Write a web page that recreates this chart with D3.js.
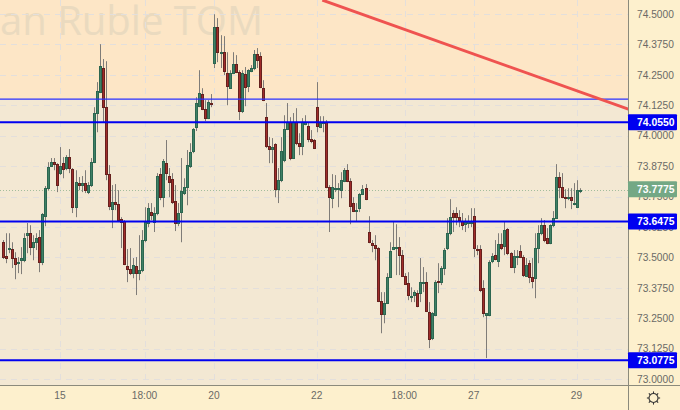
<!DOCTYPE html>
<html>
<head>
<meta charset="utf-8">
<script src="https://cdn.jsdelivr.net/npm/d3@7/dist/d3.min.js"></script>
<style>html,body{margin:0;padding:0;background:#fdf0cd}svg{display:block}</style>
</head>
<body>
<script>
const opens=[73.562,73.505,73.534,73.534,73.497,73.476,73.488,73.488,73.591,73.599,73.542,73.562,73.583,73.480,73.669,73.784,73.875,73.891,73.883,73.846,73.887,73.867,73.912,73.862,73.706,73.805,73.797,73.805,73.768,73.797,
73.891,74.093,74.179,74.278,74.117,73.842,73.698,73.727,73.719,73.657,73.649,73.464,73.451,73.435,73.464,73.435,73.447,73.571,73.641,73.686,73.645,73.682,73.842,73.747,73.887,73.834,73.821,73.731,73.641,73.686,
73.764,73.789,73.875,73.936,74.035,74.121,74.171,74.109,74.072,74.134,74.298,74.446,74.339,74.343,74.257,74.195,74.257,74.294,74.261,74.101,74.253,74.204,74.265,74.278,74.335,74.327,74.195,74.076,73.957,73.945,
73.965,73.780,73.817,73.899,74.027,74.056,73.908,74.056,73.969,73.957,74.047,74.039,73.986,73.982,74.117,74.035,74.052,74.056,73.789,73.743,73.780,73.780,73.776,73.813,73.858,73.813,73.723,73.690,73.702,73.760,
73.784,73.604,73.558,73.550,73.538,73.320,73.266,73.312,73.419,73.534,73.538,73.542,73.509,73.423,73.394,73.336,73.345,73.353,73.353,73.394,73.398,73.275,73.168,73.262,73.402,73.398,73.456,73.538,73.599,73.682,
73.682,73.665,73.649,73.636,73.641,73.641,73.669,73.534,73.534,73.373,73.262,73.262,73.484,73.509,73.484,73.554,73.546,73.616,73.517,73.460,73.501,73.525,73.501,73.423,73.476,73.419,73.414,73.538,73.599,73.632,
73.579,73.558,73.632,73.661,73.830,73.789,73.747,73.743,73.747,73.719,73.706,73.775];
const highs=[73.571,73.599,73.599,73.562,73.521,73.501,73.542,73.599,73.641,73.632,73.591,73.599,73.612,73.682,73.793,73.891,73.908,73.908,73.887,73.953,73.912,73.920,73.945,73.867,73.858,73.830,73.834,73.858,73.809,73.908,
74.117,74.220,74.376,74.315,74.306,73.879,73.797,73.801,73.776,73.665,73.653,73.534,73.538,73.497,73.501,73.591,73.612,73.706,73.723,73.723,73.706,73.846,73.867,73.904,73.982,73.867,73.846,73.797,73.723,73.908,
73.825,73.941,73.969,74.031,74.158,74.269,74.195,74.146,74.146,74.171,74.499,74.483,74.413,74.409,74.343,74.269,74.343,74.331,74.269,74.269,74.282,74.273,74.290,74.352,74.360,74.343,74.228,74.134,73.994,73.990,
73.969,73.867,73.994,74.084,74.134,74.076,74.093,74.113,74.010,74.072,74.084,74.056,74.023,73.986,74.220,74.080,74.080,74.064,73.797,73.842,73.838,73.805,73.850,73.867,73.883,73.825,73.747,73.723,73.764,73.797,
73.801,73.669,73.571,73.591,73.542,73.357,73.357,73.435,73.562,73.645,73.636,73.583,73.530,73.435,73.439,73.377,73.365,73.365,73.497,73.460,73.439,73.316,73.275,73.406,73.476,73.464,73.538,73.661,73.739,73.694,
73.706,73.694,73.682,73.661,73.673,73.702,73.702,73.550,73.550,73.406,73.271,73.488,73.517,73.571,73.599,73.599,73.645,73.620,73.521,73.530,73.530,73.550,73.509,73.497,73.488,73.497,73.599,73.632,73.661,73.653,
73.620,73.636,73.690,73.883,73.850,73.846,73.780,73.784,73.784,73.805,73.817,73.784];
const lows=[73.493,73.476,73.517,73.456,73.410,73.435,73.431,73.480,73.517,73.509,73.488,73.530,73.439,73.468,73.628,73.776,73.871,73.858,73.768,73.838,73.825,73.858,73.846,73.682,73.665,73.776,73.768,73.764,73.760,73.789,
73.887,74.014,74.175,74.056,73.817,73.694,73.620,73.694,73.645,73.538,73.468,73.398,73.427,73.414,73.345,73.406,73.439,73.562,73.624,73.653,73.604,73.673,73.735,73.706,73.817,73.747,73.719,73.608,73.628,73.562,
73.756,73.714,73.867,73.928,74.019,74.117,74.105,74.060,74.068,74.117,74.278,74.302,74.278,74.249,74.125,74.195,74.253,74.257,74.064,74.093,74.121,74.179,74.261,74.269,74.278,74.195,74.142,73.949,73.887,73.887,
73.747,73.723,73.809,73.891,74.023,73.899,73.904,73.961,73.920,73.920,74.043,73.973,73.969,73.945,74.014,74.031,74.014,73.784,73.604,73.702,73.768,73.706,73.743,73.809,73.809,73.636,73.686,73.649,73.686,73.756,
73.735,73.558,73.521,73.488,73.316,73.188,73.229,73.308,73.419,73.530,73.427,73.427,73.419,73.386,73.324,73.316,73.316,73.295,73.316,73.357,73.275,73.127,73.160,73.258,73.353,73.386,73.427,73.530,73.591,73.604,
73.632,73.624,73.612,73.604,73.620,73.624,73.501,73.509,73.357,73.254,73.086,73.258,73.476,73.488,73.460,73.530,73.509,73.509,73.456,73.435,73.468,73.497,73.419,73.419,73.394,73.373,73.332,73.476,73.591,73.562,
73.554,73.554,73.624,73.661,73.743,73.743,73.702,73.735,73.698,73.714,73.702,73.764];
const closes=[73.501,73.497,73.538,73.497,73.472,73.480,73.497,73.579,73.599,73.542,73.562,73.579,73.480,73.678,73.784,73.871,73.891,73.883,73.797,73.875,73.862,73.912,73.867,73.706,73.809,73.797,73.805,73.776,73.797,73.891,
74.093,74.183,74.286,74.117,73.842,73.710,73.727,73.719,73.653,73.645,73.472,73.451,73.435,73.468,73.435,73.447,73.571,73.645,73.702,73.673,73.682,73.834,73.747,73.895,73.846,73.809,73.727,73.641,73.682,73.772,
73.789,73.879,73.932,74.027,74.134,74.175,74.109,74.072,74.138,74.130,74.446,74.343,74.343,74.265,74.204,74.257,74.294,74.261,74.101,74.257,74.199,74.269,74.278,74.335,74.310,74.199,74.146,73.957,73.945,73.953,
73.780,73.817,73.936,74.027,74.056,73.908,74.056,73.969,73.957,74.056,74.056,73.986,73.977,73.949,74.039,74.052,74.056,73.789,73.747,73.789,73.784,73.784,73.817,73.858,73.813,73.710,73.690,73.694,73.760,73.780,
73.739,73.562,73.550,73.538,73.320,73.266,73.312,73.419,73.525,73.542,73.542,73.509,73.423,73.390,73.345,73.340,73.357,73.299,73.398,73.398,73.279,73.164,73.271,73.398,73.398,73.456,73.530,73.599,73.665,73.665,
73.665,73.653,73.632,73.645,73.649,73.645,73.538,73.530,73.365,73.271,73.271,73.480,73.505,73.493,73.554,73.538,73.612,73.517,73.460,73.505,73.505,73.501,73.427,73.468,73.419,73.402,73.538,73.599,73.632,73.571,
73.558,73.632,73.661,73.830,73.789,73.747,73.743,73.747,73.735,73.723,73.776,73.7775];
const priceTicks=[73,73.125,73.25,73.375,73.5,73.625,73.75,73.875,74,74.125,74.25,74.375,74.5];
const timeLabels=["15","18:00","20","22","18:00","27","29"];
const timeIndex=[19,47,70,104,133,156,190];
const thinLevel=74.15;
const levels=[74.055,73.6475,73.0775];
const lastPrice=73.7775;
const trendIndex=[105.7,207];
const trendPrice=[74.557,74.109];
const watermark="an Ruble TOM";

const W=680,H=410,plotR=628,plotB=385;
const x=d3.scaleLinear().domain([0,191]).range([3,580]);
const y=d3.scaleLinear().domain([73,74.5]).range([379,14]);
const font='"Liberation Sans",Arial,sans-serif';
const svg=d3.select("body").append("svg").attr("width",W).attr("height",H);
svg.append("rect").attr("width",W).attr("height",H).attr("fill","#fdf0cd");
svg.append("defs").append("clipPath").attr("id","plot").append("rect").attr("width",plotR).attr("height",plotB);
const plot=svg.append("g").attr("clip-path","url(#plot)");
plot.append("rect").attr("width",plotR).attr("height",y(thinLevel)).attr("fill","#fde6c6");
plot.append("rect").attr("y",y(thinLevel)).attr("width",plotR).attr("height",plotB-y(thinLevel)).attr("fill","#f3e8d3");
plot.append("text").attr("x",0).attr("y",35).text(watermark)
  .attr("font-family",'"Open Sans",sans-serif').attr("font-size",40).attr("fill","#eadabf");
const grid=plot.append("g").attr("stroke","#e3dfdc").attr("stroke-dasharray","6,5");
grid.selectAll("line.h").data(priceTicks).join("line").attr("x1",0).attr("x2",plotR)
  .attr("y1",d=>Math.round(y(d))+.5).attr("y2",d=>Math.round(y(d))+.5);
grid.selectAll("line.v").data(timeIndex).join("line").attr("y1",0).attr("y2",plotB)
  .attr("x1",d=>Math.round(x(d))+.5).attr("x2",d=>Math.round(x(d))+.5);
plot.append("line").attr("x1",0).attr("x2",plotR).attr("y1",Math.round(y(lastPrice))+.5).attr("y2",Math.round(y(lastPrice))+.5)
  .attr("stroke","#a3bd9c").attr("stroke-dasharray","1,2");

const rows=d3.range(opens.length);
const px=i=>Math.round(x(i));
const wicks=plot.append("g").attr("stroke","#7f7c78");
wicks.selectAll("line").data(rows).join("line")
  .attr("x1",i=>px(i)+.5).attr("x2",i=>px(i)+.5).attr("y1",i=>y(highs[i])).attr("y2",i=>y(lows[i]));
const up=i=>closes[i]>=opens[i];
plot.append("g").selectAll("rect").data(rows).join("rect")
  .attr("x",i=>px(i)-.5).attr("width",2)
  .attr("y",i=>Math.round(y(Math.max(opens[i],closes[i])))+.5)
  .attr("height",i=>Math.max(1,Math.round(y(Math.min(opens[i],closes[i])))-Math.round(y(Math.max(opens[i],closes[i])))))
  .attr("fill",i=>up(i)?"#3f8065":"#a02c2a").attr("stroke",i=>up(i)?"#2c6650":"#66211e");

plot.append("line").attr("x1",0).attr("x2",plotR).attr("y1",y(thinLevel)).attr("y2",y(thinLevel))
  .attr("stroke","#2a30ff").attr("stroke-width",1.2);
plot.selectAll("line.lvl").data(levels).join("line").attr("class","lvl").attr("x1",0).attr("x2",plotR)
  .attr("y1",d=>y(d)).attr("y2",d=>y(d)).attr("stroke","#0000f0").attr("stroke-width",2);
plot.append("line").attr("x1",x(trendIndex[0])).attr("x2",x(trendIndex[1]))
  .attr("y1",y(trendPrice[0])).attr("y2",y(trendPrice[1])).attr("stroke","#ef5350").attr("stroke-width",3);

svg.append("line").attr("x1",0).attr("x2",W).attr("y1",plotB+.5).attr("y2",plotB+.5).attr("stroke","#8b8a7c");
svg.append("line").attr("x1",plotR+.5).attr("x2",plotR+.5).attr("y1",0).attr("y2",H).attr("stroke","#8b8a7c");

const yAxis=d3.axisRight(y).tickValues(priceTicks).tickFormat(d3.format(".4f")).tickSize(0).tickPadding(9);
const gy=svg.append("g").attr("transform",`translate(${plotR},0)`).call(yAxis);
gy.select(".domain").remove();
gy.selectAll("text").attr("font-family",font).attr("font-size",10.2).attr("fill","#6a6a66");

const xAxis=d3.axisBottom(x).tickValues(timeIndex)
  .tickFormat(d=>timeLabels[timeIndex.indexOf(d)]).tickSize(0).tickPadding(7);
const gx=svg.append("g").attr("transform",`translate(-1,${plotB})`).call(xAxis);
gx.select(".domain").remove();
gx.selectAll("text").attr("font-family",font).attr("font-size",10.2).attr("fill","#6a6a66");

const tags=[[levels[0],"#0000f0"],[levels[1],"#0000f0"],[levels[2],"#0000f0"],[lastPrice,"#74a885"]];
tags.forEach(([v,c])=>{
  const cy=y(v)+(v===lastPrice?-0.5:0);
  svg.append("rect").attr("x",plotR).attr("y",cy-8).attr("width",49).attr("height",16).attr("rx",1).attr("fill",c);
  svg.append("text").attr("x",plotR+9).attr("y",cy).attr("dy","0.35em").text(v.toFixed(4))
    .attr("font-family",font).attr("font-size",10.4).attr("font-weight","bold").attr("fill","#fff");
});

const cog=svg.append("g").attr("transform","translate(653.5,398)").attr("fill","none").attr("stroke","#333");
cog.append("circle").attr("r",4.5).attr("stroke-width",1.1);
d3.range(8).forEach(k=>{
  const a=k*Math.PI/4;
  cog.append("line").attr("x1",4.6*Math.cos(a)).attr("y1",4.6*Math.sin(a)).attr("x2",6.6*Math.cos(a)).attr("y2",6.6*Math.sin(a)).attr("stroke-width",1.1);
});
</script>
</body>
</html>
